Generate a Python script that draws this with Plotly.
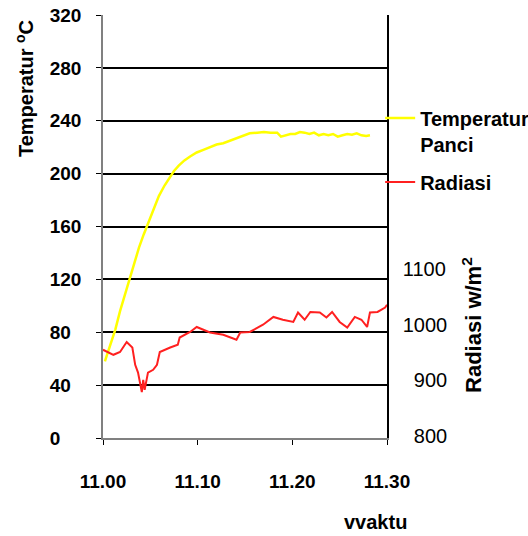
import plotly.graph_objects as go

# time in minutes after 11.00
temp_t = [0.2, 0.5, 1.0, 1.3, 1.8, 2.3, 2.8, 3.3, 3.8, 4.3, 4.8, 5.3, 5.9, 6.5, 7.0, 7.5, 8.0, 8.6, 9.2, 9.9,
          10.6, 11.3, 12.0, 12.7, 13.4, 14.1, 14.8, 15.5, 16.3, 17.0, 17.7, 18.4, 18.8, 19.3, 19.8, 20.3,
          20.8, 21.3, 21.8, 22.3, 22.8, 23.3, 23.8, 24.3, 24.8, 25.3, 25.8, 26.3, 26.8, 27.3, 27.8, 28.2]
temp_v = [58, 65, 76, 82, 96, 108, 120, 132, 144, 154, 163, 173, 183, 191, 197, 202, 206, 210, 213, 216,
          218, 220, 222, 223, 225, 227, 229, 230.5, 231, 231.5, 231, 231, 228, 229, 230, 230,
          231.5, 231, 230, 231, 229, 230, 229, 230, 228, 229, 230, 229.5, 230.5, 229, 228.5, 229]

rad_t = [0.0, 0.5, 1.1, 1.8, 2.5, 3.1, 3.4, 3.7, 4.1, 4.25, 4.4, 4.75, 5.3, 5.7, 6.0, 7.1, 7.9, 8.1,
         9.2, 9.9, 10.6, 11.3, 12.7, 13.4, 14.1, 14.5, 15.5, 16.9, 18.0, 19.0, 20.1, 20.6, 21.3,
         21.9, 22.9, 23.6, 24.2, 25.0, 25.8, 26.6, 27.3, 27.9, 28.2, 29.0, 29.8, 30.0]
rad_v = [955, 951, 946, 951, 969, 959, 928, 914, 879, 901, 883, 914, 919, 928, 951, 959, 964, 977,
         987, 996, 991, 986, 982, 978, 973, 986, 987, 1000, 1014, 1009, 1005, 1022, 1009,
         1023, 1022, 1013, 1023, 1005, 995, 1014, 1009, 996, 1022, 1023, 1031, 1036]

x_ticks = [0, 10, 20, 30]
x_labels = ["11.00", "11.10", "11.20", "11.30"]
y_ticks = [0, 40, 80, 120, 160, 200, 240, 280, 320]
y_labels = ["0\u2007\u2007", "40\u2007", "80\u2007", "120", "160", "200", "240", "280", "320"]
y2_ticks = [800, 900, 1000, 1100]
y2_labels = ["\u2007800", "\u2007900", "1000", "1100"]

SANS = "Liberation Sans, Arial"

fig = go.Figure()
fig.add_trace(go.Scatter(x=temp_t, y=temp_v, mode="lines", name="Temperatur<br>Panci",
                         legendgroup="temp", line=dict(color="#FFFF00", width=2.5)))
fig.add_trace(go.Scatter(x=rad_t, y=rad_v, mode="lines", name="Radiasi", yaxis="y2",
                         legendgroup="rad", line=dict(color="#FF2020", width=2)))

fig.update_layout(
    width=528, height=536,
    margin=dict(l=103, r=141, t=15, b=98, autoexpand=False),
    paper_bgcolor="white", plot_bgcolor="white",
    showlegend=True,
    legend=dict(xref="container", yref="container", x=0.72, y=0.816, xanchor="left", yanchor="top",
                valign="top", traceorder="grouped",
                font=dict(family=SANS, size=20, color="black", weight="bold"),
                itemwidth=30, tracegroupgap=9, bgcolor="rgba(0,0,0,0)"),
    xaxis=dict(range=[0, 30], tickvals=x_ticks, ticktext=x_labels, showgrid=False, zeroline=False,
               showline=True, linecolor="#808080", linewidth=1.5, ticks="outside", ticklen=5,
               tickcolor="black", ticklabelstandoff=20,
               tickfont=dict(family=SANS, size=19, color="black", weight="bold")),
    yaxis=dict(range=[0, 320], tickvals=y_ticks, ticktext=y_labels, showgrid=True, gridcolor="black",
               gridwidth=1.5, zeroline=False, showline=True, linecolor="#808080", linewidth=1.5,
               ticks="outside", ticklen=5, tickcolor="black", ticklabelstandoff=11,
               tickfont=dict(family=SANS, size=19, color="black", weight="bold")),
    yaxis2=dict(range=[796.4, 1556.8], overlaying="y", side="right", tickvals=y2_ticks,
                ticktext=y2_labels, showgrid=False, zeroline=False, showline=True,
                linecolor="black", linewidth=1.5, ticks="", ticklabelstandoff=10,
                tickfont=dict(family=SANS, size=20, color="black")),
    annotations=[
        dict(text="Temperatur <sup>o</sup>C", textangle=-90, xref="paper", yref="paper",
             x=-0.278, y=0.825, xanchor="center", yanchor="middle", showarrow=False,
             font=dict(family=SANS, size=20, color="black", weight="bold")),
        dict(text="Radiasi w/m<sup>2</sup>", textangle=-90, xref="paper", yref="paper",
             x=1.299, y=0.267, xanchor="center", yanchor="middle", showarrow=False,
             font=dict(family=SANS, size=22, color="black", weight="bold")),
        dict(text="vvaktu", xref="paper", yref="paper", x=0.958, y=-0.199,
             xanchor="center", yanchor="middle", showarrow=False,
             font=dict(family=SANS, size=20, color="black", weight="bold")),
    ],
)

fig.write_html("out.html")
